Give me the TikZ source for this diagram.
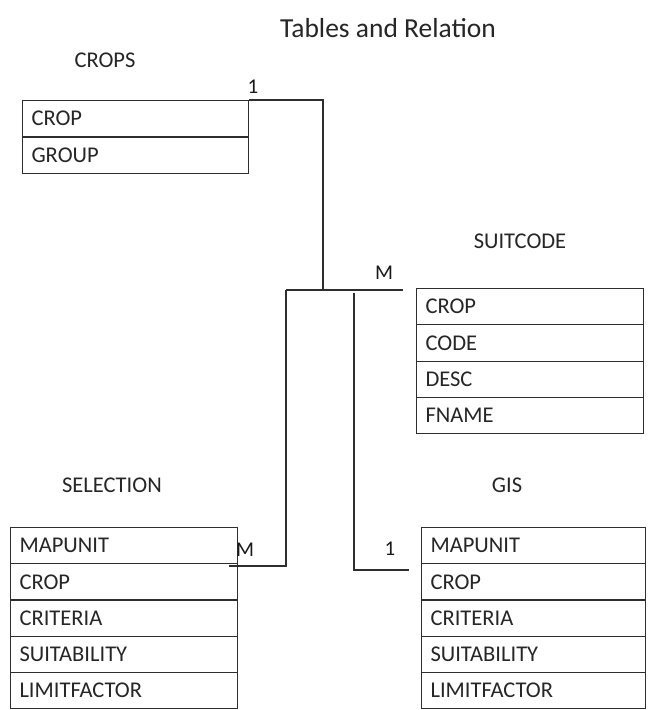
\documentclass[tikz,border=0pt]{standalone}
\usepackage{fontspec}
\setmainfont{Carlito}
\begin{document}
\begin{tikzpicture}[x=1pt,y=-1pt,
  linec/.style={draw=black!82, line width=1.1pt},
  row/.style={linec, anchor=north west, minimum height=36.3pt, inner xsep=9pt, inner ysep=0pt,
    align=left, text=black!85, font=\fontsize{22.5}{25}\selectfont},
  ttl/.style={text=black!85, font=\fontsize{22.5}{25}\selectfont, inner sep=0pt},
  lbl/.style={text=black!90, font=\fontsize{21}{24}\selectfont, inner sep=0pt},
  conn/.style={linec, line width=1.2pt}]
\useasboundingbox (0,0) rectangle (648,710);
\fill[white] (0,0) rectangle (648,710);
% titles
\node[text=black!85, font=\fontsize{27.5}{31}\selectfont, inner sep=0pt] (title) at (388,28) {Tables and Relation};
\node[ttl] (tcrops) at (105,60) {CROPS};
\node[ttl] (tsuit) at (520,241) {SUITCODE};
\node[ttl] (tsel) at (112,485) {SELECTION};
\node[ttl] (tgis) at (507,485) {GIS};
% CROPS
\foreach \t [count=\i from 0] in {CROP,GROUP}
  \node[row, text width=208pt] (crops\i) at (22,{100+\i*36.5}) {\t};
% SUITCODE
\foreach \t [count=\i from 0] in {CROP,CODE,DESC,FNAME}
  \node[row, text width=209pt] (suit\i) at (416,{288+\i*36.3}) {\t};
% SELECTION
\foreach \t [count=\i from 0] in {MAPUNIT,CROP,CRITERIA,SUITABILITY,LIMITFACTOR}
  \node[row, text width=209pt] (sel\i) at (10,{527+\i*36.2}) {\t};
% GIS
\foreach \t [count=\i from 0] in {MAPUNIT,CROP,CRITERIA,SUITABILITY,LIMITFACTOR}
  \node[row, text width=206pt] (gis\i) at (421,{527+\i*36.2}) {\t};
% junction coordinates
\coordinate (jtop) at (323,290);
\coordinate (jl) at (286,290);
\coordinate (jr) at (403,290);
\coordinate (selend) at (229,566);
\coordinate (gisend) at (409,570);
% connectors
\draw[conn] (crops0.north east) -| (jtop);
\draw[conn] (jl) -- (jr);
\draw[conn] (jl) |- (selend);
\draw[conn] (354,293) |- (gisend);
% cardinality labels
\node[lbl] (c1) at (253,87) {1};
\node[lbl] (cm1) at (384,273) {M};
\node[lbl] (cm2) at (245,550) {M};
\node[lbl] (c2) at (390,549) {1};
\end{tikzpicture}
\end{document}
